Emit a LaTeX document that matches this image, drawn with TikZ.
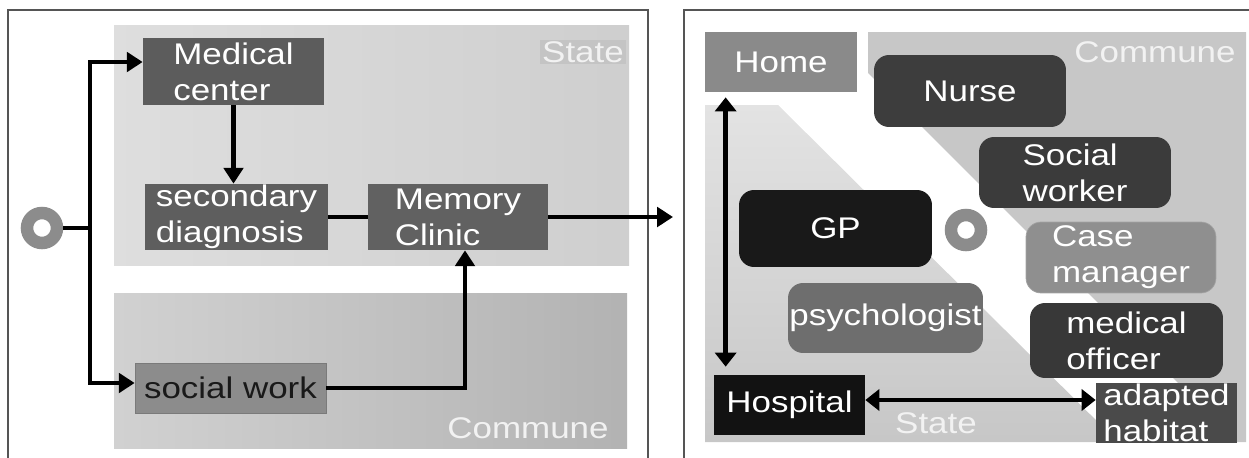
\documentclass[tikz,border=0pt]{standalone}
\usepackage{fontspec}
\setmainfont{Liberation Sans}[FakeStretch=1.17]
\usetikzlibrary{arrows.meta}
\definecolor{framegray}{HTML}{555555}
\definecolor{ringgray}{HTML}{8C8C8C}
\definecolor{areatext}{HTML}{F2F2F2}
\definecolor{patchgray}{HTML}{C4C4C4}
\newcommand\diagfont{\fontsize{17}{20.5}\selectfont}

\begin{document}
\begin{tikzpicture}[x=0.02cm, y=-0.02cm,
  box/.style={rectangle, inner sep=0pt, text=white, font=\diagfont, align=left},
  rbox/.style={box, rounded corners=0.3cm},
  area/.style={text=areatext, font=\diagfont, inner sep=1pt},
  frame/.style={draw=framegray, line width=1.2pt},
  link/.style={line width=2.6pt},
  flow/.style={link, -{Triangle[length=9pt,width=11pt]}},
  both/.style={link, {Triangle[length=8pt,width=12pt]}-{Triangle[length=8pt,width=12pt]}},
  ring/.style={circle, draw=ringgray, line width=0.25cm, minimum size=0.6cm, inner sep=0pt}]
\useasboundingbox (0,0) rectangle (1249,457);

\draw[frame] (8,465) -- (8,10) -- (648,10) -- (648,465);
\shade[left color=black!13, right color=black!19] (114,25) rectangle (629,265);
\shade[left color=black!18, right color=black!30] (114,293) rectangle (627,448);
\node[area, fill=patchgray] (stateL) at (583,52) {State};
\node[area] (communeL) at (528,428) {Commune};

\node[box, fill=black!64, minimum width=3.62cm, minimum height=1.34cm] (medical) at (233.5,71.5) {Medical\\center};
\node[box, fill=black!63, minimum width=3.66cm, minimum height=1.32cm] (second) at (236.5,217) {secondary\\diagnosis};
\node[box, fill=black!62, minimum width=3.60cm, minimum height=1.32cm] (memory) at (458,217) {Memory\\Clinic};
\node[box, fill=black!45, draw=black!52, text=black!90, minimum width=3.82cm, minimum height=1.00cm] (social) at (230.5,388) {social work};
\node[ring] (ringL) at (42,228) {};
\coordinate (split) at (90,228);
\coordinate (exit) at (673,217);

\draw[link] (ringL) -- (split);
\draw[flow] (split) |- ([yshift=0.19cm]medical.west);
\draw[flow] (split) |- ([yshift=0.1cm]social.west);
\draw[flow] (medical.south) -- (medical.south |- second.north);
\draw[link] (second) -- (memory);
\draw[flow] (social.east) -| ([xshift=0.14cm]memory.south);
\draw[flow] (memory) -- (exit);

\draw[frame] (684,465) -- (684,10) -- (1260,10);
\shade[top color=black!11, bottom color=black!22] (705,105) -- (778,105) -- (1118,442) -- (705,442) -- cycle;
\fill[black!22] (868,32) -- (1246,32) -- (1246,442) -- (1237,442) -- (868,73) -- cycle;
\node[area] (communeR) at (1155,52) {Commune};
\node[area] (stateR) at (936,423) {State};

\node[box, fill=black!46, minimum width=3.04cm, minimum height=1.20cm] (home) at (781,62) {Home};
\node[rbox, fill=black!76, minimum width=3.84cm, minimum height=1.44cm] (nurse) at (970,91) {Nurse};
\node[rbox, fill=black!77, minimum width=3.84cm, minimum height=1.42cm] (socialw) at (1075,172.5) {Social\\worker};
\node[rbox, fill=black!44, draw=black!36, minimum width=3.80cm, minimum height=1.42cm] (casem) at (1121,257.5) {Case\\manager};
\node[rbox, fill=black!78, minimum width=3.86cm, minimum height=1.50cm] (medoff) at (1126.5,340.5) {medical\\officer};
\node[rbox, fill=black!90, minimum width=3.86cm, minimum height=1.54cm] (gp) at (835.5,228.5) {GP};
\node[rbox, fill=black!57, minimum width=3.90cm, minimum height=1.40cm] (psych) at (885.5,318) {psychologist};
\node[box, fill=black!93, minimum width=3.02cm, minimum height=1.20cm] (hospital) at (789.5,405) {Hospital};
\node[box, fill=black!71, minimum width=2.82cm, minimum height=1.20cm] (habitat) at (1166.5,413) {adapted\\habitat};
\node[ring] (ringR) at (966,230) {};

\draw[both, shorten <=0.1cm, shorten >=0.16cm] ([xshift=0.42cm]home.south west) -- ([xshift=0.42cm]home.south west |- hospital.north);
\draw[both] ([yshift=0.1cm]hospital.east) -- ([yshift=0.1cm]hospital.east -| habitat.west);
\end{tikzpicture}
\end{document}
